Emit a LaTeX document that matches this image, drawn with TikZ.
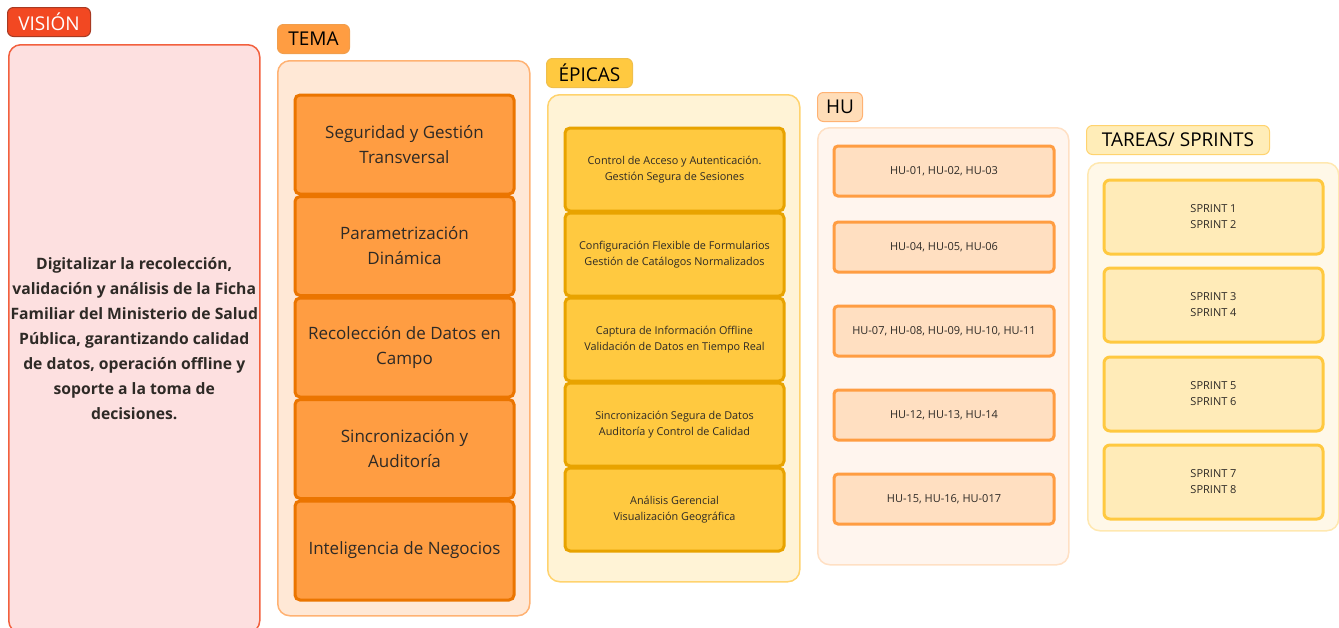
\documentclass[tikz,border=0pt]{standalone}
\usepackage{fontspec}
\setmainfont{Open Sans}
\definecolor{visred}{HTML}{F24822}
\definecolor{visdark}{HTML}{A83A22}
\definecolor{vispink}{HTML}{FDE0E0}
\definecolor{visline}{HTML}{F2603E}
\definecolor{temaor}{HTML}{FF9D42}
\definecolor{temadark}{HTML}{EB7500}
\definecolor{temabg}{HTML}{FFE8D6}
\definecolor{temaline}{HTML}{FFB273}
\definecolor{epiy}{HTML}{FFC940}
\definecolor{epidark}{HTML}{E8A300}
\definecolor{epibg}{HTML}{FFF3D6}
\definecolor{epiline}{HTML}{FFD36E}
\definecolor{hufill}{HTML}{FFDFC1}
\definecolor{hubg}{HTML}{FFF5EE}
\definecolor{huline}{HTML}{FFE0C4}
\definecolor{hutag}{HTML}{FFDDB8}
\definecolor{sprfill}{HTML}{FFEBB8}
\definecolor{sprbg}{HTML}{FFF8E8}
\definecolor{sprline}{HTML}{FFE8B0}
\definecolor{sprtag}{HTML}{FFEDB8}
\definecolor{txt}{HTML}{2E2A26}

\begin{document}
\begin{tikzpicture}[x=1pt,y=-1pt,
    tag/.style={anchor=north west,rounded corners=6pt,line width=1pt,minimum height=29pt,
      inner sep=0pt,font=\fontsize{19}{20}\selectfont},
    panel/.style={anchor=north west,rounded corners=12pt,line width=1.5pt,inner sep=0pt},
    temabox/.style={anchor=north west,rounded corners=5pt,line width=3pt,draw=temadark,fill=temaor,
      minimum width=219pt,minimum height=99pt,align=center,text=txt,
      font=\fontsize{17}{25}\selectfont},
    epibox/.style={anchor=north west,rounded corners=5pt,line width=3pt,draw=epidark,fill=epiy,
      minimum width=219pt,minimum height=83pt,align=center,text=txt,
      font=\fontsize{10.85}{16}\selectfont},
    hubox/.style={anchor=north west,rounded corners=4pt,line width=3pt,draw=temaor,fill=hufill,
      minimum width=220pt,minimum height=50pt,align=center,text=txt,
      font=\fontsize{11}{16}\selectfont},
    sprbox/.style={anchor=north west,rounded corners=6pt,line width=3pt,draw=epiy,fill=sprfill,
      minimum width=219pt,minimum height=74pt,align=center,text=txt,
      font=\fontsize{11}{16}\selectfont}]
    \useasboundingbox (0,0) rectangle (1339,627);
    % vision
    \node [tag,draw=visdark,fill=visred,text=white,minimum width=83pt] (VT) at (7,7) {VISIÓN};
    \node [panel,draw=visline,fill=vispink,minimum width=251pt,minimum height=588pt,
      align=center,text=txt,font=\fontsize{15.7}{25}\selectfont\bfseries] (V) at (8,44)
      {Digitalizar la recolección,\\ validación y análisis de la Ficha\\ Familiar del Ministerio de Salud\\
       Pública, garantizando calidad\\ de datos, operación offline y\\ soporte a la toma de\\ decisiones.};
    % tema
    \node [tag,draw=temadark!70,fill=temaor,text=black,minimum width=72pt] (TT) at (277,24) {TEMA};
    \node [panel,draw=temaline,fill=temabg,minimum width=252pt,minimum height=555pt] (T) at (277,60) {};
    \node [temabox] (T1) at (293.5,93.5) {Seguridad y Gestión\\ Transversal};
    \node [temabox] (T2) at (293.5,195) {Parametrización\\ Dinámica};
    \node [temabox] (T3) at (293.5,296.5) {Recolección de Datos en\\ Campo};
    \node [temabox] (T4) at (293.5,398) {Sincronización y\\ Auditoría};
    \node [temabox] (T5) at (293.5,499.5) {Inteligencia de Negocios};
    % epicas
    \node [tag,draw=epidark!70,fill=epiy,text=black,minimum width=86pt] (ET) at (546,58) {ÉPICAS};
    \node [panel,draw=epiline,fill=epibg,minimum width=252pt,minimum height=487pt] (E) at (547,94) {};
    \node [epibox] (E1) at (563.5,126.5) {Control de Acceso y Autenticación.\\ Gestión Segura de Sesiones};
    \node [epibox] (E2) at (563.5,211.5) {Configuración Flexible de Formularios\\ Gestión de Catálogos Normalizados};
    \node [epibox] (E3) at (563.5,296.5) {Captura de Información Offline\\ Validación de Datos en Tiempo Real};
    \node [epibox] (E4) at (563.5,381.5) {Sincronización Segura de Datos\\ Auditoría y Control de Calidad};
    \node [epibox] (E5) at (563.5,466.5) {Análisis Gerencial\\ Visualización Geográfica};
    % hu
    \node [tag,draw=temaline,fill=hutag,text=black,minimum width=45pt] (HT) at (817,92) {HU};
    \node [panel,draw=huline,fill=hubg,minimum width=251pt,minimum height=437pt] (H) at (817,127) {};
    \node [hubox] (H1) at (832.5,144.5) {HU-01, HU-02, HU-03};
    \node [hubox] (H2) at (832.5,220.5) {HU-04, HU-05, HU-06};
    \node [hubox] (H3) at (832.5,304.5) {HU-07, HU-08, HU-09, HU-10, HU-11};
    \node [hubox] (H4) at (832.5,388.5) {HU-12, HU-13, HU-14};
    \node [hubox] (H5) at (832.5,472.5) {HU-15, HU-16, HU-017};
    % tareas / sprints
    \node [tag,draw=epiline,fill=sprtag,text=black,minimum width=183pt] (ST) at (1086,125) {TAREAS/ SPRINTS};
    \node [panel,draw=sprline,fill=sprbg,minimum width=251pt,minimum height=368pt] (S) at (1087,162) {};
    \node [sprbox] (S1) at (1102.5,178.5) {SPRINT 1\\ SPRINT 2};
    \node [sprbox] (S2) at (1102.5,266.5) {SPRINT 3\\ SPRINT 4};
    \node [sprbox] (S3) at (1102.5,355.5) {SPRINT 5\\ SPRINT 6};
    \node [sprbox] (S4) at (1102.5,443.5) {SPRINT 7\\ SPRINT 8};
\end{tikzpicture}
\end{document}
